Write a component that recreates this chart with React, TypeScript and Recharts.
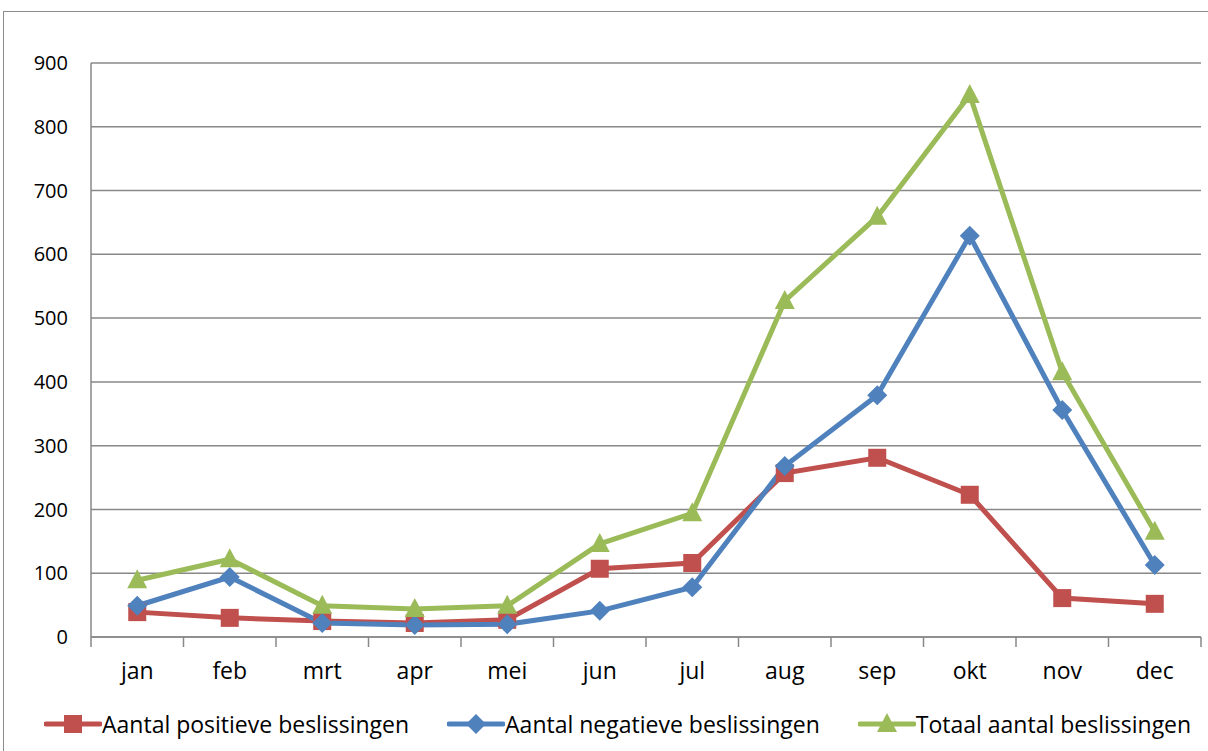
import React from 'react'
import { CartesianGrid, Legend, Line, LineChart, XAxis, YAxis } from 'recharts'

const months = ['jan', 'feb', 'mrt', 'apr', 'mei', 'jun', 'jul', 'aug', 'sep', 'okt', 'nov', 'dec']
const positive = [39, 30, 25, 22, 27, 107, 116, 257, 281, 223, 61, 52]
const negative = [49, 94, 22, 19, 20, 41, 78, 268, 379, 629, 356, 113]
const total = [89, 122, 49, 44, 49, 146, 194, 527, 659, 850, 415, 165]
const yTicks = [0, 100, 200, 300, 400, 500, 600, 700, 800, 900]

const seriesInfo = [
  { key: 'positive', name: 'Aantal positieve beslissingen', color: '#C0504D', marker: 'square' },
  { key: 'negative', name: 'Aantal negatieve beslissingen', color: '#4F81BD', marker: 'diamond' },
  { key: 'total', name: 'Totaal aantal beslissingen', color: '#9BBB59', marker: 'triangle' },
]

const data = months.map((month, i) => ({
  month,
  positive: positive[i],
  negative: negative[i],
  total: total[i],
}))

const FONT = '"Open Sans", sans-serif'
const GRID = '#888888'

function Marker({ kind, cx, cy, color }: { kind: string; cx: number; cy: number; color: string }) {
  if (kind === 'square') {
    return <rect x={cx - 9} y={cy - 9} width={18} height={18} fill={color} />
  }
  if (kind === 'diamond') {
    return <polygon points={`${cx},${cy - 10} ${cx + 10},${cy} ${cx},${cy + 10} ${cx - 10},${cy}`} fill={color} />
  }
  return <polygon points={`${cx},${cy - 11} ${cx + 10},${cy + 8} ${cx - 10},${cy + 8}`} fill={color} />
}

function makeDot(kind: string, color: string) {
  return (props: any) => {
    const { cx, cy, index } = props
    if (cx == null || cy == null) return <g key={index} />
    return <Marker key={index} kind={kind} cx={cx} cy={cy} color={color} />
  }
}

// month label at the band centre, tick marks on the band edges (like Excel)
function MonthTick(props: any) {
  const { x, y, payload, index, visibleTicksCount } = props
  const half = payload.offset || 0
  const axisY = y - 26
  const isLast = index === visibleTicksCount - 1
  return (
    <g>
      <line x1={x - half} y1={axisY} x2={x - half} y2={axisY + 10} stroke={GRID} strokeWidth={1.5} />
      {isLast && <line x1={x + half} y1={axisY} x2={x + half} y2={axisY + 10} stroke={GRID} strokeWidth={1.5} />}
      <text x={x} y={y} dy="0.71em" textAnchor="middle" fill="#000" fontSize={23} fontFamily={FONT}>
        {payload.value}
      </text>
    </g>
  )
}

function LegendContent() {
  return (
    <div style={{ display: 'flex', alignItems: 'center', height: 30, paddingLeft: 44, fontFamily: FONT, fontSize: 23, color: '#000' }}>
      {seriesInfo.map((s) => (
        <div key={s.key} style={{ display: 'flex', alignItems: 'center', marginRight: 38 }}>
          <svg width={58} height={26} style={{ display: 'block' }}>
            <line x1={2} y1={13} x2={56} y2={13} stroke={s.color} strokeWidth={5} strokeLinecap="round" />
            <Marker kind={s.marker} cx={29} cy={13} color={s.color} />
          </svg>
          <span style={{ whiteSpace: 'nowrap' }}>{s.name}</span>
        </div>
      ))}
    </div>
  )
}

export default function App() {
  return (
    <div style={{ position: 'absolute', left: 0, top: 0, width: 1208, height: 751, overflow: 'hidden', background: '#fff' }}>
      <div style={{ position: 'absolute', left: 3, top: 11, width: 1300, height: 800, border: '1.5px solid #8c8c8c' }} />
      <LineChart
        width={1208}
        height={751}
        data={data}
        margin={{ top: 63, right: 7, bottom: 20, left: 0 }}
        style={{ position: 'absolute', left: 0, top: 0 }}
      >
        <CartesianGrid vertical={false} stroke={GRID} strokeWidth={1.5} />
        <XAxis
          dataKey="month"
          scale="band"
          axisLine={{ stroke: GRID, strokeWidth: 1.5 }}
          tickLine={false}
          tickSize={0}
          tickMargin={26}
          height={64}
          interval={0}
          tick={<MonthTick />}
        />
        <YAxis
          width={91}
          domain={[0, 900]}
          ticks={yTicks}
          interval={0}
          tickLine={false}
          tickSize={0}
          tickMargin={23}
          axisLine={{ stroke: GRID, strokeWidth: 1.5 }}
          tick={{ fill: '#000', fontSize: 20, fontFamily: FONT }}
        />
        <Legend verticalAlign="bottom" align="left" content={<LegendContent />} wrapperStyle={{ left: 0, bottom: 12 }} />
        {seriesInfo.map((s) => (
          <Line
            key={s.key}
            dataKey={s.key}
            name={s.name}
            stroke={s.color}
            strokeWidth={5}
            type="linear"
            dot={makeDot(s.marker, s.color)}
            activeDot={false}
            isAnimationActive={false}
          />
        ))}
      </LineChart>
    </div>
  )
}
